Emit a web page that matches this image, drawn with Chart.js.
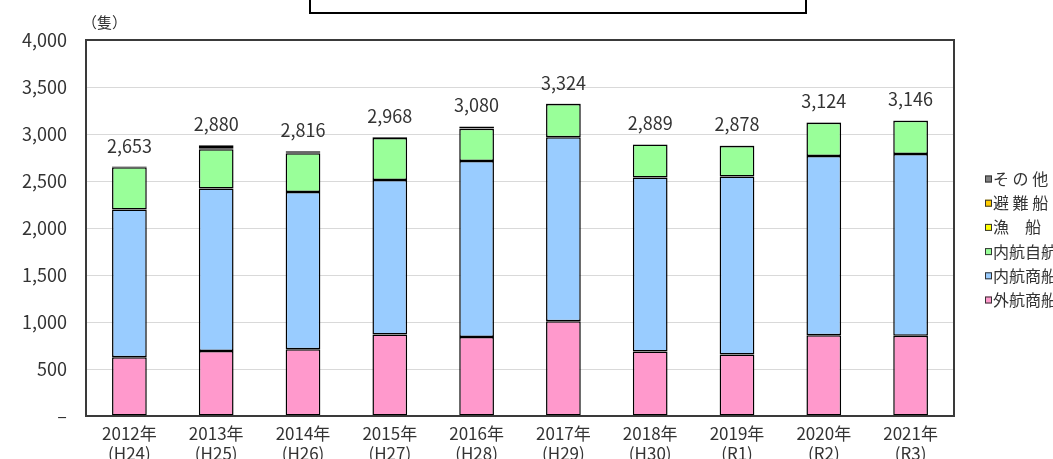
<!DOCTYPE html>
<html lang="ja">
<head>
<meta charset="utf-8">
<script src="https://cdn.jsdelivr.net/npm/chart.js@4.4.0/dist/chart.umd.min.js"></script>
<style>
  html, body { margin: 0; padding: 0; background: #fff; }
  canvas { display: block; }
</style>
</head>
<body>
<canvas id="dockChart" width="1053" height="459"></canvas>
<script>
const years = ['2012年', '2013年', '2014年', '2015年', '2016年', '2017年', '2018年', '2019年', '2020年', '2021年'];
const eras = ['(H24)', '(H25)', '(H26)', '(H27)', '(H28)', '(H29)', '(H30)', '(R1)', '(R2)', '(R3)'];

// 船種別の隻数
const gaikoShosen = [624, 692, 710, 866, 840, 1007, 685, 653, 858, 855];
const naikoShosen = [1572, 1727, 1673, 1645, 1873, 1958, 1851, 1894, 1908, 1932];
const naikoJiko = [450, 418, 412, 446, 344, 354, 351, 325, 354, 355];
const gyosen = [2, 5, 3, 3, 4, 2, 1, 2, 1, 1];
const hinansen = [0, 10, 3, 0, 2, 0, 0, 0, 0, 0];
const sonota = [5, 28, 15, 8, 17, 3, 1, 4, 3, 3];

const yMax = 4000;
const yStep = 500;

const FONT = '"Noto Sans CJK JP", "Noto Sans", sans-serif';
const TEXT = '#333333';

const makeSet = (label, data, color) => ({
    label: label,
    data: data,
    backgroundColor: color,
    borderColor: '#000000',
    borderWidth: 1.5,
    borderSkipped: false,
    barPercentage: 0.4,
    categoryPercentage: 1
});

// 棒の上に合計を表示
const totalLabels = {
    id: 'totalLabels',
    afterDatasetsDraw(chart) {
        const ctx = chart.ctx;
        const yScale = chart.scales.y;
        const meta = chart.getDatasetMeta(0);
        ctx.save();
        ctx.font = '18px ' + FONT;
        ctx.fillStyle = TEXT;
        ctx.textAlign = 'center';
        ctx.textBaseline = 'alphabetic';
        years.forEach((y, i) => {
            const total = chart.data.datasets.reduce((s, ds) => s + ds.data[i], 0);
            const px = meta.data[i].x;
            const py = yScale.getPixelForValue(total);
            ctx.fillText(total.toLocaleString('en-US'), px, py - 14);
        });
        ctx.restore();
    }
};

// 枠線、単位、凡例など
const extras = {
    id: 'extras',
    afterDraw(chart) {
        const ctx = chart.ctx;
        const area = chart.chartArea;
        ctx.save();

        ctx.strokeStyle = '#3a3a3a';
        ctx.lineWidth = 2;
        ctx.strokeRect(area.left, area.top, area.right - area.left, area.bottom - area.top);

        // タイトル枠（上端は切れている）
        ctx.strokeStyle = '#000';
        ctx.lineWidth = 2;
        ctx.strokeRect(310, -10, 496, 23);

        ctx.fillStyle = TEXT;
        ctx.font = '15px ' + FONT;
        ctx.textAlign = 'left';
        ctx.textBaseline = 'middle';
        ctx.fillText('（隻）', 82, 22);

        // 凡例
        ctx.font = '16px ' + FONT;
        const sets = chart.data.datasets.slice().reverse();
        sets.forEach((ds, i) => {
            const y = 179 + i * 24.2;
            ctx.fillStyle = ds.backgroundColor;
            ctx.fillRect(985, y - 3.5, 7, 7);
            ctx.strokeStyle = '#333';
            ctx.lineWidth = 1;
            ctx.strokeRect(985.5, y - 3, 6, 6);
            ctx.fillStyle = TEXT;
            ctx.fillText(ds.label, 993, y);
        });

        ctx.restore();
    }
};

new Chart(document.getElementById('dockChart'), {
    type: 'bar',
    data: {
        labels: years.map((y, i) => [y, eras[i]]),
        datasets: [
            makeSet('外航商船', gaikoShosen, '#ff99cc'),
            makeSet('内航商船', naikoShosen, '#99ccff'),
            makeSet('内航自航船', naikoJiko, '#99ff99'),
            makeSet('漁　船', gyosen, '#ffff00'),
            makeSet('避 難 船', hinansen, '#ffcc00'),
            makeSet('そ の 他', sonota, '#808080')
        ]
    },
    options: {
        responsive: false,
        devicePixelRatio: 1,
        animation: false,
        layout: {
            padding: { top: 40, right: 99, left: 0, bottom: 0 }
        },
        plugins: {
            legend: { display: false },
            tooltip: { enabled: false }
        },
        scales: {
            x: {
                stacked: true,
                grid: { display: false, drawTicks: false },
                border: { display: false },
                ticks: {
                    color: TEXT,
                    font: { family: FONT, size: 17, lineHeight: 1.15 },
                    padding: 8,
                    maxRotation: 0,
                    autoSkip: false
                },
                afterFit(scale) { scale.height = 43; }
            },
            y: {
                stacked: true,
                min: 0,
                max: yMax,
                grid: { color: '#d9d9d9', lineWidth: 1, drawTicks: false },
                border: { display: false },
                ticks: {
                    stepSize: yStep,
                    color: TEXT,
                    font: { family: FONT, size: 18 },
                    padding: 19,
                    callback: v => v === 0 ? '–' : v.toLocaleString('en-US')
                },
                afterFit(scale) { scale.width = 86; }
            }
        }
    },
    plugins: [totalLabels, extras]
});
</script>
</body>
</html>
